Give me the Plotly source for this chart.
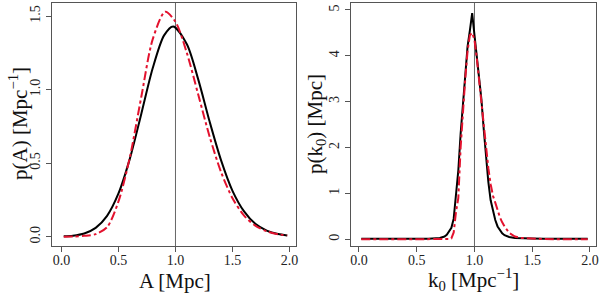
import plotly.graph_objects as go

# ---- Left panel data: p(A) ----
a_black_x = [0.02, 0.1, 0.2, 0.3, 0.4, 0.5, 0.6, 0.7, 0.8, 0.9, 0.98, 1.1, 1.2, 1.3, 1.4, 1.5, 1.6, 1.7, 1.8, 1.9, 1.98]
a_black_y = [0.003, 0.007, 0.022, 0.060, 0.142, 0.294, 0.531, 0.835, 1.145, 1.369, 1.430, 1.308, 1.068, 0.781, 0.519, 0.312, 0.174, 0.088, 0.042, 0.018, 0.009]
a_red_x = [0.02, 0.1, 0.2, 0.3, 0.4, 0.5, 0.6, 0.7, 0.8, 0.91, 1.0, 1.1, 1.2, 1.3, 1.4, 1.5, 1.6, 1.7, 1.8, 1.9, 1.98]
a_red_y = [0.000, 0.001, 0.006, 0.018, 0.065, 0.240, 0.541, 0.950, 1.342, 1.530, 1.461, 1.249, 0.965, 0.679, 0.439, 0.262, 0.145, 0.075, 0.037, 0.017, 0.009]

# ---- Right panel data: p(k0) ----
k_black_x = [0.02, 0.2, 0.4, 0.6, 0.7, 0.74, 0.76, 0.78, 0.80, 0.82, 0.84, 0.86, 0.88, 0.90, 0.92, 0.94, 0.96, 0.98,
             1.00, 1.02, 1.04, 1.06, 1.08, 1.10, 1.12, 1.14, 1.16, 1.18, 1.20, 1.22, 1.24, 1.26, 1.30, 1.35, 1.40, 1.50, 1.60, 1.80, 1.98]
k_black_y = [0.01, 0.01, 0.01, 0.01, 0.03, 0.06, 0.10, 0.17, 0.25, 0.45, 0.95, 1.50, 2.30, 2.95, 3.65, 4.20, 4.55, 4.93,
             4.45, 4.00, 3.50, 3.05, 2.40, 1.75, 1.25, 0.85, 0.60, 0.42, 0.28, 0.19, 0.13, 0.09, 0.05, 0.03, 0.02, 0.015, 0.01, 0.01, 0.01]
k_red_x = [0.02, 0.2, 0.4, 0.6, 0.7, 0.76, 0.78, 0.80, 0.82, 0.84, 0.86, 0.88, 0.90, 0.92, 0.94, 0.96, 0.98,
           1.00, 1.02, 1.04, 1.06, 1.08, 1.10, 1.12, 1.14, 1.16, 1.18, 1.20, 1.22, 1.24, 1.26, 1.30, 1.35, 1.40, 1.50, 1.60, 1.80, 1.98]
k_red_y = [0.0, 0.0, 0.0, 0.0, 0.0, 0.0, 0.005, 0.02, 0.15, 0.60, 0.90, 2.00, 2.80, 3.50, 4.10, 4.45, 4.50,
           4.35, 3.95, 3.45, 3.00, 2.50, 1.95, 1.55, 1.20, 0.95, 0.80, 0.63, 0.48, 0.37, 0.28, 0.14, 0.06, 0.03, 0.01, 0.005, 0.0, 0.0]

true_value = 1.0

left_xticks = [0.0, 0.5, 1.0, 1.5, 2.0]
left_yticks = [0.0, 0.5, 1.0, 1.5]
right_xticks = [0.0, 0.5, 1.0, 1.5, 2.0]
right_yticks = [0, 1, 2, 3, 4, 5]

BLACK = "#000000"
RED = "#e3122e"
FONT = "Liberation Serif"

fig = go.Figure()
fig.add_trace(go.Scatter(x=a_black_x, y=a_black_y, mode="lines", line=dict(color=BLACK, width=2, shape="spline", smoothing=0.8),
                         xaxis="x", yaxis="y", showlegend=False, hoverinfo="skip"))
fig.add_trace(go.Scatter(x=a_red_x, y=a_red_y, mode="lines", line=dict(color=RED, width=2, dash="dashdot", shape="spline", smoothing=0.8),
                         xaxis="x", yaxis="y", showlegend=False, hoverinfo="skip"))
fig.add_trace(go.Scatter(x=k_black_x, y=k_black_y, mode="lines", line=dict(color=BLACK, width=2),
                         xaxis="x2", yaxis="y2", showlegend=False, hoverinfo="skip"))
fig.add_trace(go.Scatter(x=k_red_x, y=k_red_y, mode="lines", line=dict(color=RED, width=2, dash="dashdot"),
                         xaxis="x2", yaxis="y2", showlegend=False, hoverinfo="skip"))

for xr, yr in (("x", "y"), ("x2", "y2")):
    fig.add_shape(type="line", xref=xr, yref=yr + " domain", x0=true_value, x1=true_value, y0=0, y1=1,
                  line=dict(color="#666666", width=1), layer="below")

W, H = 600, 293
def px_x(p):
    return p / W
def px_y(p):
    return 1 - p / H

axis_common = dict(showgrid=False, zeroline=False, showline=True, mirror=True, linecolor="#555555", linewidth=1,
                   ticks="outside", ticklen=5, tickcolor="#555555", automargin=False,
                   tickfont=dict(family=FONT, size=14, color="#222222"))

fig.update_layout(
    template="none",
    width=W, height=H, margin=dict(l=0, r=0, t=0, b=0, pad=0),
    plot_bgcolor="white", paper_bgcolor="white",
    xaxis=dict(domain=[px_x(52), px_x(296)], range=[-0.083, 2.057], tickvals=left_xticks, tickformat=".1f", anchor="y",
               ticklabelstandoff=-4, **axis_common),
    yaxis=dict(domain=[px_y(246), px_y(3)], range=[-0.063, 1.589], tickvals=left_yticks, tickformat=".1f", tickangle=-90, anchor="x", **axis_common),
    xaxis2=dict(domain=[px_x(351), px_x(596)], range=[-0.069, 2.052], tickvals=right_xticks, tickformat=".1f", anchor="y2",
                ticklabelstandoff=-4, **axis_common),
    yaxis2=dict(domain=[px_y(246), px_y(3)], range=[-0.146, 5.152], tickvals=right_yticks, tickformat="d", tickangle=-90, anchor="x2", **axis_common),
)

title_font = dict(family=FONT, size=21, color="#111111")
ann = dict(xref="paper", yref="paper", showarrow=False, xanchor="center", yanchor="middle", font=title_font)
fig.add_annotation(text="A [Mpc]", x=px_x(175), y=px_y(281), **ann)
fig.add_annotation(text="k<sub>0</sub> [Mpc<sup>−1</sup>]", x=px_x(473), y=px_y(279), **ann)
fig.add_annotation(text="p(A) [Mpc<sup>−1</sup>]", x=px_x(18), y=px_y(124), textangle=-90, **ann)
fig.add_annotation(text="p(k<sub>0</sub>) [Mpc]", x=px_x(316), y=px_y(124), textangle=-90, **ann)

fig.write_html("out.html", config={"displayModeBar": False, "staticPlot": True},
               post_script="document.body.style.margin='0';")
